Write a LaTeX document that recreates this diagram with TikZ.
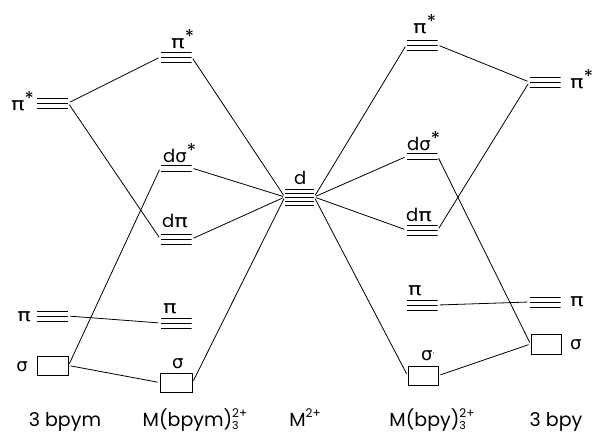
\documentclass[tikz,border=0pt]{standalone}
\usepackage{fontspec}
\setmainfont{Poppins}
\newfontfamily\gk{DejaVu Sans}
\newcommand\gp{\scalebox{1.25}[1]{\gk π}}
\newcommand\gs{{\gk σ}}
\newcommand\st{\raisebox{0.5ex}{\fontsize{19}{19}\selectfont *}}
\newcommand\cx[1]{#1\rlap{\raisebox{-0.3ex}{\fontsize{11}{11}\selectfont 3}}\raisebox{0.85ex}{\fontsize{12}{12}\selectfont 2+}}
\begin{document}
\begin{tikzpicture}[x=1pt,y=-1pt,
  lvl3/.style={minimum width=31pt, minimum height=16pt, inner sep=0pt,
    path picture={\foreach \d in {-5,0,5}{\draw[line width=1pt] ([yshift=\d pt]path picture bounding box.west) -- ([yshift=\d pt]path picture bounding box.east);}}},
  lvl2/.style={minimum width=31pt, minimum height=12pt, inner sep=0pt,
    path picture={\foreach \d in {-3,3}{\draw[line width=1pt] ([yshift=\d pt]path picture bounding box.west) -- ([yshift=\d pt]path picture bounding box.east);}}},
  lvl5/.style={minimum width=29pt, minimum height=22pt, inner sep=0pt,
    path picture={\foreach \d in {-8,-4,0,4,8}{\draw[line width=1pt] ([yshift=\d pt]path picture bounding box.west) -- ([yshift=\d pt]path picture bounding box.east);}}},
  obox/.style={draw, line width=1pt, minimum width=31pt, minimum height=19pt, inner sep=0pt},
  con/.style={line width=0.8pt, shorten <=2pt, shorten >=2pt},
  lab/.style={inner sep=0pt, font=\fontsize{18}{20}\selectfont},
  blab/.style={inner sep=0pt, anchor=base, font=\fontsize{19}{22}\selectfont}]
\useasboundingbox (0,0) rectangle (593,434);
% levels
\node[lvl3] (Lpis) at (52.5,103) {};
\node[lvl3] (Lpi) at (52.5,316) {};
\node[obox] (Lsig) at (52.5,365.5) {};
\node[lvl3] (Cpis) at (176,57) {};
\node[lvl2] (Cds) at (176,168) {};
\node[lvl3] (Cdp) at (176,239) {};
\node[lvl3] (Cpi) at (176,323) {};
\node[obox, minimum width=32pt] (Csig) at (176,382.5) {};
\node[lvl5] (Md) at (299.5,197) {};
\node[lvl3] (Rpis) at (422,45) {};
\node[lvl2] (Rds) at (422,156.5) {};
\node[lvl3] (Rdp) at (422,230) {};
\node[lvl3] (Rpi) at (422,305) {};
\node[obox, minimum width=30pt] (Rsig) at (423,375.5) {};
\node[lvl3] (Bpis) at (545,82) {};
\node[lvl3] (Bpi) at (545,302) {};
\node[obox, minimum width=30pt, minimum height=20pt] (Bsig) at (546,344) {};
% level labels
\node[lab, anchor=base east] (tLpis) at (34,110) {\gp\st};
\node[lab, anchor=base east] (tLpi) at (31,321) {\gp};
\node[lab, anchor=base east] (tLsig) at (28,371) {\gs};
\node[lab, anchor=base west] (tCpis) at (171,48) {\gp\st};
\node[lab, anchor=base west] (tCds) at (163,162) {d\gs\st};
\node[lab, anchor=base west] (tCdp) at (162,227) {d\gp};
\node[lab, anchor=base west] (tCpi) at (163,313) {\gp};
\node[lab, anchor=base west] (tCsig) at (172,368) {\gs};
\node[lab, anchor=base west] (tMd) at (294,184) {d};
\node[lab, anchor=base west] (tRpis) at (413,33) {\gp\st};
\node[lab, anchor=base west] (tRds) at (407,150) {d\gs\st};
\node[lab, anchor=base west] (tRdp) at (406,221) {d\gp};
\node[lab, anchor=base west] (tRpi) at (408,295) {\gp};
\node[lab, anchor=base west] (tRsig) at (421,360) {\gs\raisebox{0.4ex}{\fontsize{9}{9}\selectfont·}};
\node[lab, anchor=base west] (tBpis) at (570,88) {\gp\st};
\node[lab, anchor=base west] (tBpi) at (570,306) {\gp};
\node[lab, anchor=base west] (tBsig) at (570,349) {\gs};
% bottom labels
\node[blab] (b1) at (65,426) {3 bpym};
\node[blab] (b2) at (195,426) {\cx{M(bpym)}};
\node[blab] (b3) at (305,426) {M\raisebox{0.85ex}{\fontsize{12}{12}\selectfont 2+}};
\node[blab] (b4) at (432,426) {\cx{M(bpy)}};
\node[blab] (b5) at (556,426) {3 bpy};
% connectors left
\draw[con] (Lpis.east) -- (Cpis.west);
\draw[con] (Lpis.east) -- (Cdp.west);
\draw[con] (Cpis.east) -- (Md.west);
\draw[con] (Cds.east) -- (Md.west);
\draw[con] (Cdp.east) -- (Md.west);
\draw[con] (Csig.east) -- (Md.west);
\draw[con] (Lsig.east) -- (Cds.west);
\draw[con] (Lpi.east) -- (Cpi.west);
\draw[con] (Lsig.east) -- (Csig.west);
% connectors right
\draw[con] (Md.east) -- (Rpis.west);
\draw[con] (Md.east) -- (Rds.west);
\draw[con] (Md.east) -- (Rdp.west);
\draw[con] (Md.east) -- (Rsig.west);
\draw[con] (Rpis.east) -- (Bpis.west);
\draw[con] (Bpis.west) -- (Rdp.east);
\draw[con] (Rds.east) -- (Bsig.west);
\draw[con] (Rpi.east) -- (Bpi.west);
\draw[con] (Rsig.east) -- (Bsig.west);
\end{tikzpicture}
\end{document}
